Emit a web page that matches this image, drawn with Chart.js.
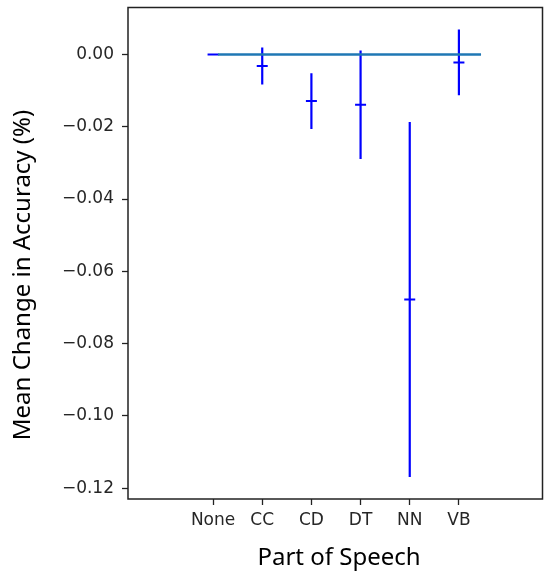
<!DOCTYPE html>
<html>
<head>
<meta charset="utf-8">
<script src="https://cdn.jsdelivr.net/npm/chart.js@4.4.0/dist/chart.umd.min.js"></script>
<style>
html, body { margin: 0; padding: 0; background: #fff; }
</style>
</head>
<body>
<canvas id="pos-chart" width="550" height="572"></canvas>
<script>
// values
const categories = ['None', 'CC', 'CD', 'DT', 'NN', 'VB'];
const meanChange = [0, -0.0032, -0.0129, -0.0139, -0.0678, -0.0022];
const errSize = [0, 0.0051, 0.0077, 0.0150, 0.0491, 0.0091];
const baselineX = [0.1, 5.45];
const baselineY = [0, 0];
const yTicks = [0, -0.02, -0.04, -0.06, -0.08, -0.10, -0.12];

const tickFont = { family: 'DejaVu Sans', size: 17 };
const titleFont = '24px "Noto Sans"';

// one vertical segment per category, broken by null gaps
const errPoints = [];
categories.forEach((c, i) => {
    if (errSize[i] === 0) return;
    errPoints.push({ x: i, y: meanChange[i] - errSize[i] });
    errPoints.push({ x: i, y: meanChange[i] + errSize[i] });
    errPoints.push({ x: i, y: null });
});

const framePlugin = {
    id: 'frame',
    afterDraw(chart) {
        const { ctx, chartArea } = chart;
        ctx.save();
        ctx.strokeStyle = '#222';
        ctx.lineWidth = 1.5;
        ctx.strokeRect(chartArea.left, chartArea.top,
            chartArea.right - chartArea.left, chartArea.bottom - chartArea.top);

        // axis titles
        ctx.fillStyle = '#000';
        ctx.font = titleFont;
        ctx.textAlign = 'center';
        ctx.textBaseline = 'alphabetic';
        ctx.fillText('Part of Speech', 339, 565);
        ctx.translate(29.5, 275);
        ctx.rotate(-Math.PI / 2);
        ctx.fillText('Mean Change in Accuracy (%)', 0, 0);
        ctx.restore();
    }
};

const ctx = document.getElementById('pos-chart').getContext('2d');

const chart = new Chart(ctx, {
    type: 'scatter',
    data: {
        datasets: [
            {
                label: 'baseline',
                data: baselineX.map((x, i) => ({ x: x, y: baselineY[i] })),
                showLine: true,
                borderColor: '#1f77b4',
                borderWidth: 2.5,
                pointRadius: 0,
                order: 0
            },
            {
                label: 'mean',
                data: meanChange.map((v, i) => ({ x: i, y: v })),
                pointStyle: 'line',
                pointRadius: 5.5,
                pointBorderWidth: 2,
                borderColor: '#0000ff',
                backgroundColor: '#0000ff',
                order: 1
            },
            {
                label: 'error',
                data: errPoints,
                showLine: true,
                spanGaps: false,
                borderColor: '#0000ff',
                borderWidth: 2.2,
                pointRadius: 0,
                order: 2
            }
        ]
    },
    options: {
        responsive: false,
        animation: false,
        layout: { padding: { top: 7, right: 7, left: 0, bottom: 0 } },
        plugins: {
            legend: { display: false },
            tooltip: { enabled: false }
        },
        scales: {
            x: {
                type: 'linear',
                min: -1.73,
                max: 6.7,
                afterFit: s => { s.height = 73; s.paddingLeft = 0; s.paddingRight = 0; },
                afterBuildTicks: s => { s.ticks = categories.map((c, i) => ({ value: i })); },
                border: { display: false },
                grid: { drawOnChartArea: false, tickLength: 6, tickColor: '#222', tickWidth: 1.3 },
                ticks: {
                    font: tickFont,
                    color: '#262626',
                    padding: 5,
                    maxRotation: 0,
                    callback: v => categories[v]
                }
            },
            y: {
                min: -0.123,
                max: 0.013,
                afterFit: s => { s.width = 128; s.paddingTop = 0; s.paddingBottom = 0; },
                afterBuildTicks: s => { s.ticks = yTicks.map(v => ({ value: v })); },
                border: { display: false },
                grid: { drawOnChartArea: false, tickLength: 6, tickColor: '#222', tickWidth: 1.3 },
                ticks: {
                    font: tickFont,
                    color: '#262626',
                    padding: 8,
                    callback: v => (v < 0 ? '\u2212' : '') + Math.abs(v).toFixed(2)
                }
            }
        }
    },
    plugins: [framePlugin]
});
</script>
</body>
</html>
